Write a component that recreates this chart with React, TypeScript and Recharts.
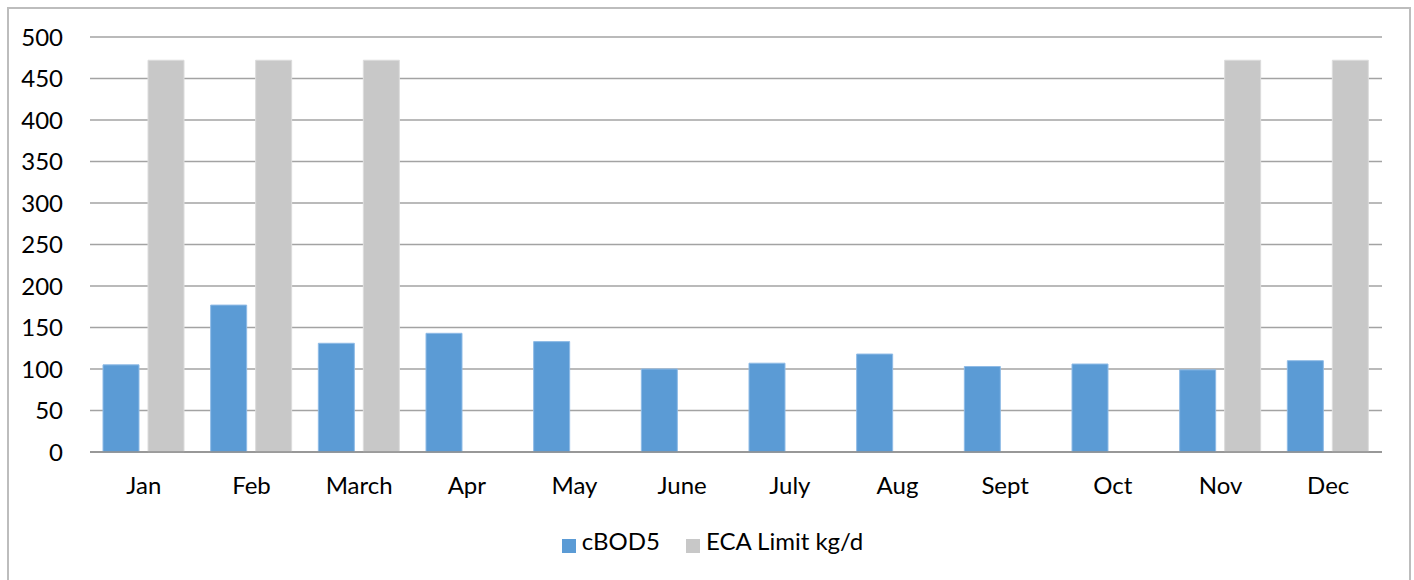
import React from 'react';
import { BarChart, Bar, XAxis, YAxis, CartesianGrid, Legend } from 'recharts';

const months = ['Jan', 'Feb', 'March', 'Apr', 'May', 'June', 'July', 'Aug', 'Sept', 'Oct', 'Nov', 'Dec'];
const cbod5 = [105, 177, 131, 143, 133, 100, 107, 118, 103, 106, 99, 110];
const ecaLimit = [472, 472, 472, null, null, null, null, null, null, null, 472, 472];
const yTicks = [0, 50, 100, 150, 200, 250, 300, 350, 400, 450, 500];

const data = months.map((m, i) => ({ month: m, cbod5: cbod5[i], eca: ecaLimit[i] }));

const FONT = 'Lato, "Open Sans", sans-serif';

export default function App() {
  return (
    <div
      style={{
        position: 'absolute',
        left: 7,
        top: 7,
        width: 1404,
        height: 580,
        border: '2px solid #bdbdbd',
        boxSizing: 'border-box',
        background: '#fff',
        fontFamily: FONT,
      }}
    >
      <BarChart
        width={1400}
        height={571}
        data={data}
        margin={{ top: 28, right: 27, left: 0, bottom: 14 }}
        barSize={36}
        barGap={9}
      >
        <CartesianGrid vertical={false} stroke="#a3a3a3" strokeWidth={1.3} />
        <XAxis
          dataKey="month"
          height={74}
          tickLine={false}
          axisLine={{ stroke: '#8c8c8c', strokeWidth: 1.5 }}
          tickMargin={19}
          tick={{ fill: '#000', fontSize: 24, fontFamily: FONT }}
          interval={0}
        />
        <YAxis
          width={81}
          domain={[0, 500]}
          ticks={yTicks}
          interval={0}
          axisLine={false}
          tickLine={false}
          tickMargin={21}
          tick={{ fill: '#000', fontSize: 24, fontFamily: FONT }}
        />
        <Legend
          verticalAlign="bottom"
          height={40}
          iconType="square"
          iconSize={14}
          itemSorter="dataKey"
          wrapperStyle={{ paddingLeft: 22 }}
          formatter={(value: string, _entry: any, index: number) => (
            <span
              style={{
                color: '#000',
                fontSize: 24,
                fontFamily: FONT,
                marginLeft: 2,
                marginRight: index === 0 ? 16 : 0,
              }}
            >
              {value}
            </span>
          )}
        />
        <Bar dataKey="cbod5" name="cBOD5" fill="#5B9BD5" stroke="#8fbbe6" strokeWidth={1} isAnimationActive={false} />
        <Bar dataKey="eca" name="ECA Limit kg/d" fill="#C8C8C8" stroke="#dcdcdc" strokeWidth={1} isAnimationActive={false} />
      </BarChart>
    </div>
  );
}
